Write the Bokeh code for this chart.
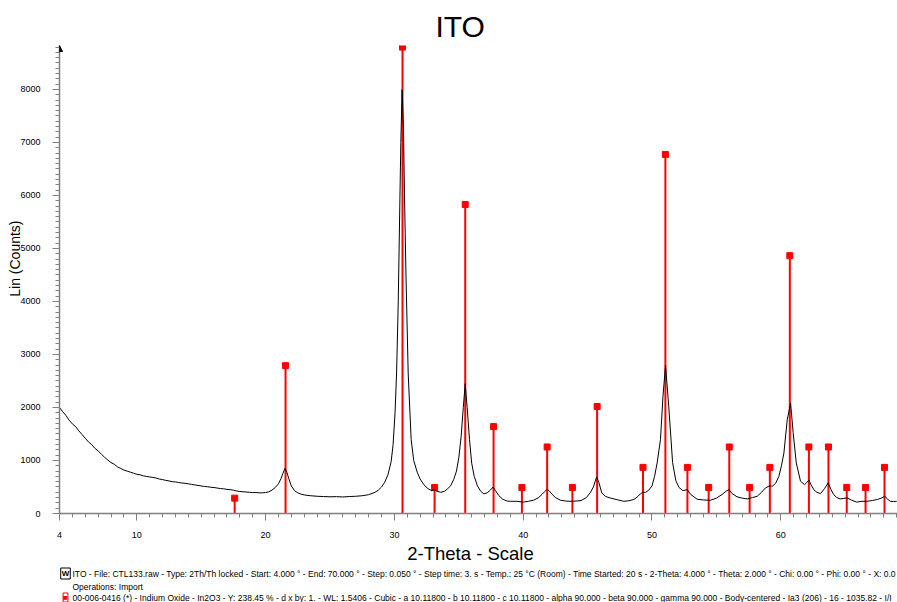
from bokeh.plotting import figure
from bokeh.layouts import column
from bokeh.models import Range1d, FixedTicker, Label, Arrow, NormalHead, Title
from bokeh.embed import file_html
from bokeh.resources import INLINE

# ---- measured pattern (2-theta in degrees, counts) ----
two_theta = [4.0, 4.25, 4.5, 4.75, 5.0, 5.25, 5.5, 5.75, 6.0, 6.25, 6.5, 6.75, 7.0, 7.25, 7.5, 7.75,
             8.0, 8.25, 8.5, 8.75, 9.0, 9.25, 9.5, 9.75, 10.0, 10.25, 10.5, 10.75, 11.0, 11.25, 11.5,
             11.75, 12.0, 12.25, 12.5, 12.75, 13.0, 13.25, 13.5, 13.75, 14.0, 14.25, 14.5, 14.75, 15.0,
             15.25, 15.5, 15.75, 16.0, 16.25, 16.5, 16.75, 17.0, 17.25, 17.5, 17.75, 18.0, 18.25, 18.5,
             18.75, 19.0, 19.25, 19.5, 19.75, 20.0, 20.25, 20.5, 20.75, 21.0, 21.2, 21.35, 21.5, 21.65,
             21.8, 22.0, 22.25, 22.5, 22.75, 23.0, 23.5, 24.0, 24.5, 25.0, 25.5, 26.0, 26.5, 27.0, 27.5,
             28.0, 28.5, 28.75, 29.0, 29.25, 29.5, 29.75, 29.9, 30.05, 30.17, 30.3, 30.4, 30.5, 30.6,
             30.7, 30.8, 30.9, 31.07, 31.3, 31.5, 31.77, 32.0, 32.3, 32.6, 32.9, 33.1, 33.3, 33.6, 33.9,
             34.1, 34.36, 34.6, 34.82, 35.0, 35.18, 35.35, 35.5, 35.65, 35.83, 36.0, 36.2, 36.45, 36.7,
             36.95, 37.2, 37.45, 37.67, 37.85, 38.1, 38.4, 38.75, 39.0, 39.5, 40.0, 40.4, 40.8, 41.2,
             41.5, 41.7, 41.86, 42.05, 42.25, 42.5, 42.9, 43.3, 43.7, 44.1, 44.5, 44.9, 45.2, 45.45,
             45.7, 45.87, 46.1, 46.4, 46.8, 47.3, 47.8, 48.2, 48.6, 48.9, 49.1, 49.3, 49.5, 49.75, 50.0,
             50.2, 50.4, 50.66, 50.85, 51.05, 51.3, 51.6, 51.85, 52.1, 52.4, 52.74, 53.0, 53.5, 54.0,
             54.55, 55.0, 55.45, 55.75, 55.97, 56.2, 56.6, 57.0, 57.4, 57.8, 58.17, 58.5, 58.8, 59.1,
             59.34, 59.6, 59.85, 60.05, 60.24, 60.5, 60.76, 60.96, 61.2, 61.53, 61.84, 62.0, 62.18,
             62.35, 62.56, 62.8, 63.08, 63.4, 63.68, 63.9, 64.1, 64.35, 64.6, 64.9, 65.15, 65.5, 65.9,
             66.3, 66.7, 67.1, 67.5, 67.8, 68.07, 68.3, 68.5, 68.75, 69.0]
counts = [2000, 1920, 1850, 1760, 1690, 1640, 1560, 1490, 1420, 1350, 1300, 1230, 1180, 1120, 1060, 1010,
          960, 930, 880, 850, 820, 800, 780, 760, 740, 730, 710, 700, 690, 680, 670,
          650, 640, 625, 615, 600, 595, 585, 575, 570, 560, 550, 540, 530, 520,
          510, 505, 495, 490, 480, 470, 465, 455, 450, 440, 425, 415, 410, 405,
          400, 395, 395, 390, 390, 395, 410, 440, 490, 560, 660, 760, 850, 780,
          660, 520, 430, 390, 365, 350, 335, 325, 320, 315, 318, 312, 320, 325, 335,
          355, 400, 440, 500, 590, 730, 980, 1300, 1900, 2650, 4000, 5500, 7000, 8000,
          7300, 5800, 4500, 2650, 1400, 1000, 780, 650, 540, 470, 430, 450, 420, 400, 420,
          460, 520, 640, 800, 1050, 1450, 2000, 2450, 2000, 1400, 950, 700, 520, 420,
          370, 390, 440, 500, 430, 340, 270, 235, 230, 230, 215, 230, 250, 300,
          370, 420, 460, 420, 360, 300, 250, 235, 230, 235, 245, 300, 390, 500,
          690, 590, 390, 320, 290, 260, 230, 240, 265, 320, 370, 400, 400, 440, 520,
          700, 955, 1400, 2200, 2800, 2020, 960, 620, 490, 430, 450, 360, 270, 255,
          250, 290, 360, 420, 450, 380, 315, 290, 275, 300, 325, 400, 480, 520,
          515, 570, 700, 900, 1140, 1770, 2085, 1525, 955, 610, 545, 580, 630,
          540, 450, 400, 375, 470, 580, 450, 360, 300, 275, 285, 295, 250, 215,
          230, 230, 245, 265, 290, 325, 270, 230, 225, 230]

# ---- reference pattern 00-006-0416 (In2O3) ----
ref_pos = [17.6, 21.55, 30.63, 33.12, 35.5, 37.7, 39.9, 41.86, 43.82, 45.74, 49.3, 51.04, 52.75,
           54.4, 56.0, 57.58, 59.15, 60.7, 62.18, 63.7, 65.12, 66.58, 68.05]
ref_int = [290, 2790, 8800, 490, 5830, 1640, 490, 1255, 490, 2020, 870, 6775, 870,
           490, 1255, 490, 870, 4865, 1255, 1255, 490, 490, 870]

x_major = [4, 10, 20, 30, 40, 50, 60]
x_minor = list(range(5, 70))
y_major = [0, 1000, 2000, 3000, 4000, 5000, 6000, 7000, 8000]
y_minor = list(range(0, 8900, 100))

title_text = "ITO"
x_label = "2-Theta - Scale"
y_label = "Lin (Counts)"
legend_1 = ("ITO - File: CTL133.raw - Type: 2Th/Th locked - Start: 4.000 \u00b0 - End: 70.000 \u00b0 - "
            "Step: 0.050 \u00b0 - Step time: 3. s - Temp.: 25 \u00b0C (Room) - Time Started: 20 s - "
            "2-Theta: 4.000 \u00b0 - Theta: 2.000 \u00b0 - Chi: 0.00 \u00b0 - Phi: 0.00 \u00b0 - X: 0.0")
legend_2 = "Operations: Import"
legend_3 = ("00-006-0416 (*) - Indium Oxide - In2O3 - Y: 238.45 % - d x by: 1. - WL: 1.5406 - Cubic - "
            "a 10.11800 - b 10.11800 - c 10.11800 - alpha 90.000 - beta 90.000 - gamma 90.000 - "
            "Body-centered - Ia3 (206) - 16 - 1035.82 - I/I")

FONT = "Liberation Sans"

# ---------------- main plot ----------------
p = figure(width=897, height=540, output_backend="svg", toolbar_location=None,
           x_range=Range1d(4, 69.06), y_range=Range1d(0, 8830),
           min_border_left=59, min_border_right=0, min_border_top=45, min_border_bottom=26)
p.outline_line_color = None
p.xgrid.visible = False
p.ygrid.visible = False
p.background_fill_color = "white"
p.border_fill_color = "white"

p.title.text = title_text
p.title.text_font = FONT
p.title.text_font_size = "30px"
p.title.text_font_style = "normal"
p.title.text_color = "black"
p.title.align = "left"
p.title.offset = 376
p.title.standoff = 6

# y-axis label as a left-side title (allows vertical positioning)
p.add_layout(Title(text=y_label, text_font=FONT, text_font_size="14px",
                   text_font_style="normal", text_color="black",
                   align="right", offset=175, standoff=-11), "left")

for ax in (p.xaxis[0], p.yaxis[0]):
    ax.axis_line_color = "#7f7f7f"
    ax.axis_line_width = 1.5
    ax.major_tick_line_color = "#7f7f7f"
    ax.minor_tick_line_color = "#7f7f7f"
    ax.major_tick_in = 0
    ax.minor_tick_in = 0
    ax.major_label_text_font = FONT
    ax.major_label_text_font_size = "9px"
    ax.major_label_text_color = "black"

p.xaxis.ticker = FixedTicker(ticks=x_major, minor_ticks=x_minor)
p.xaxis.major_tick_out = 7
p.xaxis.minor_tick_out = 4
p.xaxis.major_label_standoff = 11

p.yaxis.ticker = FixedTicker(ticks=y_major, minor_ticks=y_minor)
p.yaxis.major_tick_out = 7
p.yaxis.minor_tick_out = 4
p.yaxis.major_label_standoff = 12

# reference sticks
p.segment(x0=ref_pos, y0=[0] * len(ref_pos), x1=ref_pos, y1=ref_int,
          line_color="#ff0000", line_width=2)
p.scatter(x=ref_pos, y=ref_int, marker="square", size=6, fill_color="#ff0000",
          line_color="#ff0000")

# measured curve
p.line(two_theta, counts, line_color="black", line_width=1)

# arrow at top of y axis
p.add_layout(Arrow(end=NormalHead(size=6, fill_color="black", line_color="black"),
                   x_start=p.x_range.start, y_start=p.y_range.end * 0.985,
                   x_end=p.x_range.start, y_end=p.y_range.end,
                   line_color="black", line_width=1))

# ---------------- footer (x label + legend) ----------------
f = figure(width=897, height=62, output_backend="svg", toolbar_location=None,
           x_range=Range1d(0, 1), y_range=Range1d(0, 1),
           x_axis_type=None, y_axis_type=None,
           min_border_left=0, min_border_right=0, min_border_top=0, min_border_bottom=0)
f.outline_line_color = None
f.xgrid.visible = False
f.ygrid.visible = False

# the footer frame is aligned with the main frame (left edge at x=59)
X0 = -59

def add_text(fig, x, y, txt, size, align="left", color="black", **kw):
    fig.add_layout(Label(x=x + X0, y=y, x_units="screen", y_units="screen", text=txt,
                         text_font=FONT, text_font_size=size, text_align=align,
                         text_baseline="middle", text_color=color, **kw))

add_text(f, 470, 49, x_label, "18.5px", align="center")
add_text(f, 72, 29, legend_1, "8.5px")
add_text(f, 72, 16, legend_2, "8.5px")
add_text(f, 72, 5, legend_3, "8.5px")
# legend icons
add_text(f, 65, 29, "W", "8px", align="center", text_font_style="bold",
         border_line_color="black", border_line_width=1,
         background_fill_color="white", padding=1)
add_text(f, 65, 5, "\u25a0", "8px", align="center", color="#ff0000",
         border_line_color="#ff0000", border_line_width=1,
         background_fill_color="white", padding=0)

layout = column(p, f, spacing=0)
open("out.html", "w").write(file_html(layout, INLINE))
